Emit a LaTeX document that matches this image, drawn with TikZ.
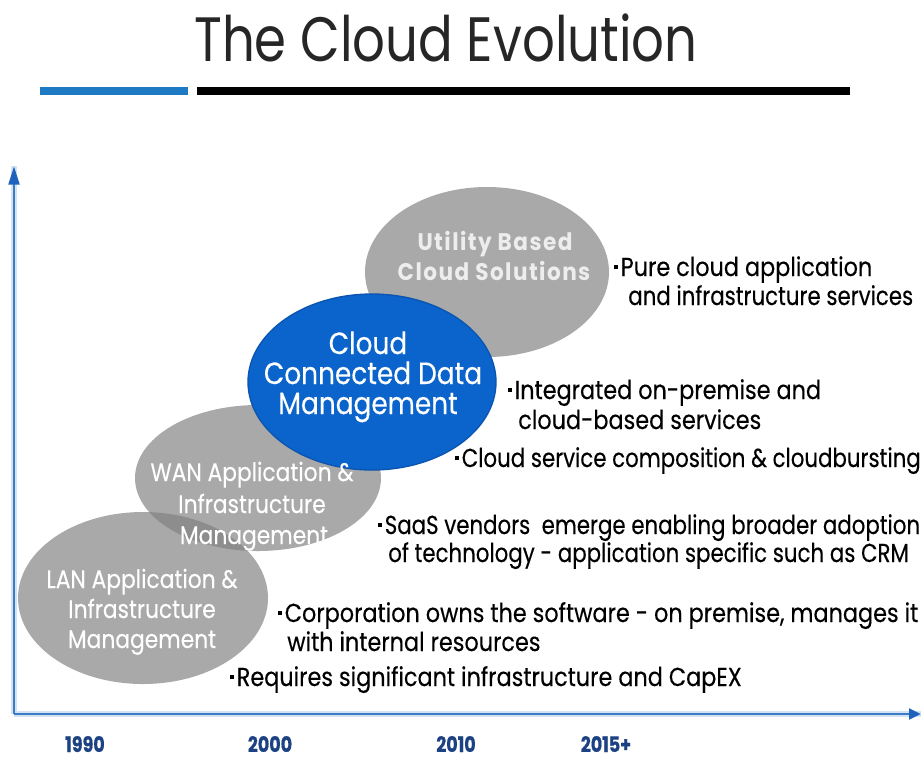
\documentclass[tikz,border=0pt]{standalone}
\usepackage{fontspec}
\setmainfont{Poppins}
\newfontfamily\titlefont[FakeStretch=0.82]{Poppins}
\newfontfamily\bodyfont[FakeStretch=0.86,FakeBold=0.3]{Poppins}
\newfontfamily\narrowbodyfont[FakeStretch=0.82,FakeBold=0.3]{Poppins}
\newfontfamily\bubblefont[FakeStretch=0.86,FakeBold=0.3]{Poppins}
\newfontfamily\spacedfont[FakeStretch=0.9,LetterSpace=6]{Poppins}
\newfontfamily\yearfont[FakeStretch=0.82,FakeBold=0.6]{Poppins}
\usetikzlibrary{shapes.geometric,arrows.meta}

\definecolor{axisblue}{HTML}{3A7DC6}
\definecolor{axisglow}{HTML}{D3E3F4}
\definecolor{tipblue}{HTML}{1F62BE}
\definecolor{barblue}{HTML}{1E7BC3}
\definecolor{yearblue}{HTML}{1D4283}
\definecolor{bubbleblue}{HTML}{0B63CC}
\definecolor{bubblerim}{HTML}{0A55B0}
\definecolor{bubblegray}{HTML}{808080}
\definecolor{lighttext}{HTML}{EDEDED}

\newcommand\sqbullet{\raisebox{0.26em}{\rule{0.13em}{0.15em}}\hspace{0.12em}}

\tikzset{
  bubble/.style={ellipse, inner sep=0pt},
  graybubble/.style={bubble, fill=bubblegray, fill opacity=0.68},
  bluebubble/.style={bubble, fill=bubbleblue, draw=bubblerim, line width=1pt},
  bubbletext/.style={inner sep=0pt, anchor=base, text=white, font=\bubblefont\fontsize{19}{21}\selectfont},
  note/.style={inner sep=0pt, anchor=base west, text=black, font=\bodyfont\fontsize{19.5}{22}\selectfont},
  narrownote/.style={note, font=\narrowbodyfont\fontsize{19.5}{22}\selectfont},
  year/.style={inner sep=0pt, anchor=base, text=yearblue, font=\yearfont\bfseries\fontsize{16}{18}\selectfont},
  axis/.style={draw=axisblue, line width=2.2pt},
  glow/.style={draw=axisglow, line width=5pt},
}

\begin{document}
\begin{tikzpicture}[x=0.75pt,y=-0.75pt]
\useasboundingbox (0,0) rectangle (923,758);

% title and rule
\node[inner sep=0pt, anchor=base, font=\titlefont\fontsize{47}{50}\selectfont, text=black!85] (title) at (446,61) {The Cloud Evolution};
\coordinate (bl0) at (40,91);
\coordinate (bl1) at (188,91);
\coordinate (bk0) at (197,91);
\coordinate (bk1) at (850,91);
\draw[barblue, line width=6pt] (bl0) -- (bl1);
\draw[black, line width=6pt] (bk0) -- (bk1);

% axes
\coordinate (origin) at (14,714);
\coordinate (ytip) at (14,166);
\coordinate (xtip) at (921,714);
\draw[glow] (origin) -- (ytip);
\draw[glow] (origin) -- (xtip);
\draw[axis, -{Triangle[length=14pt,width=8pt,color=tipblue]}] (origin) -- (ytip);
\draw[axis, -{Triangle[length=9pt,width=8pt,color=tipblue]}] (origin) -- (xtip);

% years
\node[year] (y1990) at (85,752) {1990};
\node[year] (y2000) at (270,752) {2000};
\node[year] (y2010) at (456,752) {2010};
\node[year] (y2015) at (606,752) {2015+};

% stage bubbles
\node[graybubble, minimum width=183pt, minimum height=127.5pt] (utility) at (487,272) {};
\node[graybubble, minimum width=184.5pt, minimum height=109.5pt] (wan) at (258,478) {};
\node[graybubble, minimum width=187.5pt, minimum height=129pt] (lan) at (143,598) {};
\node[bluebubble, minimum width=186pt, minimum height=132pt] (ccdm) at (372,382) {};

% bubble labels
\node[inner sep=0pt, anchor=base, text=lighttext, font=\spacedfont\bfseries\fontsize{18}{20}\selectfont] (ut1) at (495,250) {Utility Based};
\node[inner sep=0pt, anchor=base, text=lighttext, font=\spacedfont\bfseries\fontsize{18}{20}\selectfont] (ut2) at (494,280) {Cloud Solutions};

\node[bubbletext, font=\bubblefont\fontsize{23}{25}\selectfont] (cc1) at (368,354) {Cloud};
\node[bubbletext, font=\bubblefont\fontsize{23}{25}\selectfont] (cc2) at (373,384) {Connected Data};
\node[bubbletext, font=\bubblefont\fontsize{23}{25}\selectfont] (cc3) at (368,414) {Management};

\node[bubbletext] (wa1) at (252,481) {WAN Application \&};
\node[bubbletext] (wa2) at (252,513) {Infrastructure};
\node[bubbletext] (wa3) at (254,544) {Management};

\node[bubbletext] (la1) at (142,588) {LAN Application \&};
\node[bubbletext] (la2) at (142,618) {Infrastructure};
\node[bubbletext] (la3) at (142,648) {Management};

% notes
\node[note] (n1a) at (614,276) {\sqbullet Pure cloud application};
\node[narrownote] (n1b) at (628,305) {and infrastructure services};
\node[note] (n2a) at (508,399) {\sqbullet Integrated on-premise and};
\node[note] (n2b) at (518,429) {cloud-based services};
\node[narrownote] (n3) at (455,467) {\sqbullet Cloud service composition \& cloudbursting};
\node[narrownote] (n4a) at (378,534) {\sqbullet SaaS vendors\ \ emerge enabling broader adoption};
\node[narrownote] (n4b) at (388,562) {of technology - application specific such as CRM};
\node[note] (n5a) at (278,622) {\sqbullet Corporation owns the software - on premise, manages it};
\node[note] (n5b) at (287,651) {with internal resources};
\node[note] (n6) at (230,686) {\sqbullet Requires significant infrastructure and CapEX};
\end{tikzpicture}
\end{document}
